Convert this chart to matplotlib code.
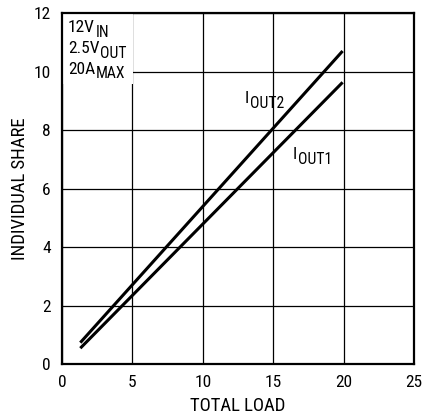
import matplotlib
matplotlib.use("Agg")
import matplotlib.pyplot as plt
from matplotlib.patches import Rectangle

plt.rcParams['font.family'] = ['Roboto Condensed', 'DejaVu Sans']

load = [1.3, 19.93]
iout1 = [0.54, 9.63]
iout2 = [0.73, 10.7]
xticks = [0, 5, 10, 15, 20, 25]
yticks = [0, 2, 4, 6, 8, 10, 12]

W, H = 422, 419
fig = plt.figure(figsize=(W / 100, H / 100), dpi=100)
ax = fig.add_axes([62/W, 1-364/H, (414-62)/W, (364-13)/H])
ax.set_xlim(0, 25)
ax.set_ylim(0, 12)
ax.set_xticks(xticks)
ax.set_yticks(yticks)
ax.grid(True, color='black', lw=0.9)
ax.set_axisbelow(True)
ax.tick_params(length=0, labelsize=12.5, pad=8)
for s in ax.spines.values():
    s.set_linewidth(1.6)

ax.plot(load, iout2, color='black', lw=2.2, solid_capstyle='butt')
ax.plot(load, iout1, color='black', lw=2.2, solid_capstyle='butt')

ax.set_xlabel('TOTAL LOAD', fontsize=13.5, labelpad=5)
ax.set_ylabel('INDIVIDUAL SHARE', fontsize=13.5, labelpad=3)

# white background behind the condition block (above grid, below spines)
ax.add_patch(Rectangle((0, 0.797), 0.203, 0.203, transform=ax.transAxes,
                       facecolor='white', edgecolor='none', zorder=1))


def sub_text(xpx, ypx, main, sub, size=12.5):
    t = fig.text(xpx / W, 1 - ypx / H, main, ha='left', va='baseline',
                 fontsize=size, zorder=6)
    ax.annotate(sub, xy=(1, 0), xycoords=t, xytext=(0.5, -3.6),
                textcoords='offset points', ha='left', va='bottom',
                fontsize=size * 0.9, zorder=6, annotation_clip=False)
    return t


sub_text(68, 31.5, '12V', 'IN')
sub_text(68, 52.8, '2.5V', 'OUT')
sub_text(68, 73.5, '20A', 'MAX')
sub_text(245, 103, 'I', 'OUT2')
sub_text(293, 159, 'I', 'OUT1')

fig.savefig('out.png', dpi=100)
